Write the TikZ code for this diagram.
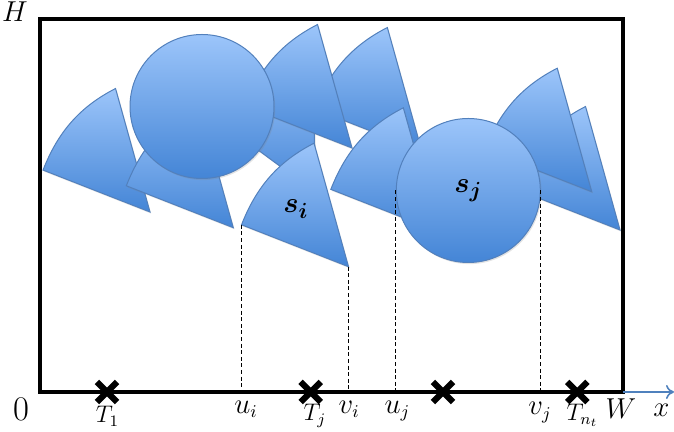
\documentclass[tikz,border=0pt]{standalone}
\usepackage{bm}
\usepackage{xcolor}
\usepackage{tikz}
\usetikzlibrary{positioning,shapes.misc,shadows,arrows.meta}

\definecolor{fillhi}{RGB}{156,197,250}
\definecolor{filllo}{RGB}{68,133,214}
\definecolor{rim}{RGB}{82,128,188}
\definecolor{axisblue}{RGB}{79,129,189}

\tikzset{
    piece/.style={draw=rim, line width=0.5pt, top color=fillhi, bottom color=filllo,
        drop shadow={opacity=0.22, shadow xshift=0.6pt, shadow yshift=-0.8pt}},
    disk/.style={piece, circle, minimum size=72pt, inner sep=0pt},
    pics/wedge/.style={code={
        \draw[piece] (0,0) -- (105.6:128.2) to[out=207, in=68.6, looseness=0.95] (158.6:114.9) -- cycle;
        \coordinate (-c) at (0,0);
        \coordinate (-l) at (158.6:114.9);
    }},
    target/.style={draw, cross out, minimum size=7pt, inner sep=0pt, line width=3.1pt},
    guide/.style={dash pattern=on 2pt off 1.3pt, line width=0.5pt},
    lbl/.style={anchor=base, font=\fontsize{13.5}{16}\selectfont},
    tlbl/.style={anchor=base, font=\fontsize{11.5}{14}\selectfont},
}

\begin{document}
\begin{tikzpicture}[x=0.5pt, y=0.5pt]
    \useasboundingbox (-40,-40) rectangle (634,392);
    \coordinate (O) at (0,0);

    % pieces, back to front
    \pic (pa) at (110,180) {wedge};
    \pic (pb) at (193.3,164.3) {wedge};
    \pic (pf) at (381.8,241) {wedge};
    \pic[rotate=-15] (pd) at (275,200) {wedge};
    \pic (pe) at (312,244) {wedge};
    \node[disk] (big) at (162,285.5) {};
    \pic (pg) at (397.8,160.7) {wedge};
    \pic (pr2) at (580,162) {wedge};
    \pic (pr1) at (551.7,200.3) {wedge};
    \node[disk] (sj) at (428.3,201.5) {\fontsize{15}{18}\selectfont$\bm{s_j}$};
    \pic (si) at (308.5,125.3) {wedge};
    \node[font=\fontsize{15}{18}\selectfont] (silab) at (256,183) {$\bm{s_i}$};

    % strip
    \draw[line width=2pt] (0,0) rectangle (583,373);
    \draw[axisblue, line width=0.8pt, -{To[length=4pt,width=7pt]}] (583,0) -- (634,0);

    % projections of s_i and s_j
    \draw[guide] (si-l) -- (si-l |- O);
    \draw[guide] (si-c) -- (si-c |- O);
    \draw[guide] (sj.west) -- (sj.west |- O);
    \draw[guide] (sj.east) -- (sj.east |- O);

    % targets
    \foreach \name/\xx in {T1/67, Tj/270.7, Tk/403, Tn/537.3}
        \node[target] (\name) at (\xx,0) {};

    % labels
    \node[lbl] (hlab) at (-25,370) {$H$};
    \node[lbl, font=\fontsize{17}{20}\selectfont] (zlab) at (-19,-28.7) {$0$};
    \node[tlbl] (lT1) at (67.5,-31) {$T_1$};
    \node[lbl] (lui) at (206,-21.3) {$u_i$};
    \node[tlbl] (lTj) at (275,-29) {$T_j$};
    \node[lbl] (lvi) at (309.2,-21.3) {$v_i$};
    \node[lbl] (luj) at (357.5,-21.3) {$u_j$};
    \node[lbl] (lvj) at (500,-23) {$v_j$};
    \node[tlbl] (lTn) at (542.5,-28.5) {$T_{n_t}$};
    \node[lbl] (wlab) at (580.8,-26.3) {$W$};
    \node[lbl] (xlab) at (621.5,-24.7) {$x$};
\end{tikzpicture}
\end{document}
